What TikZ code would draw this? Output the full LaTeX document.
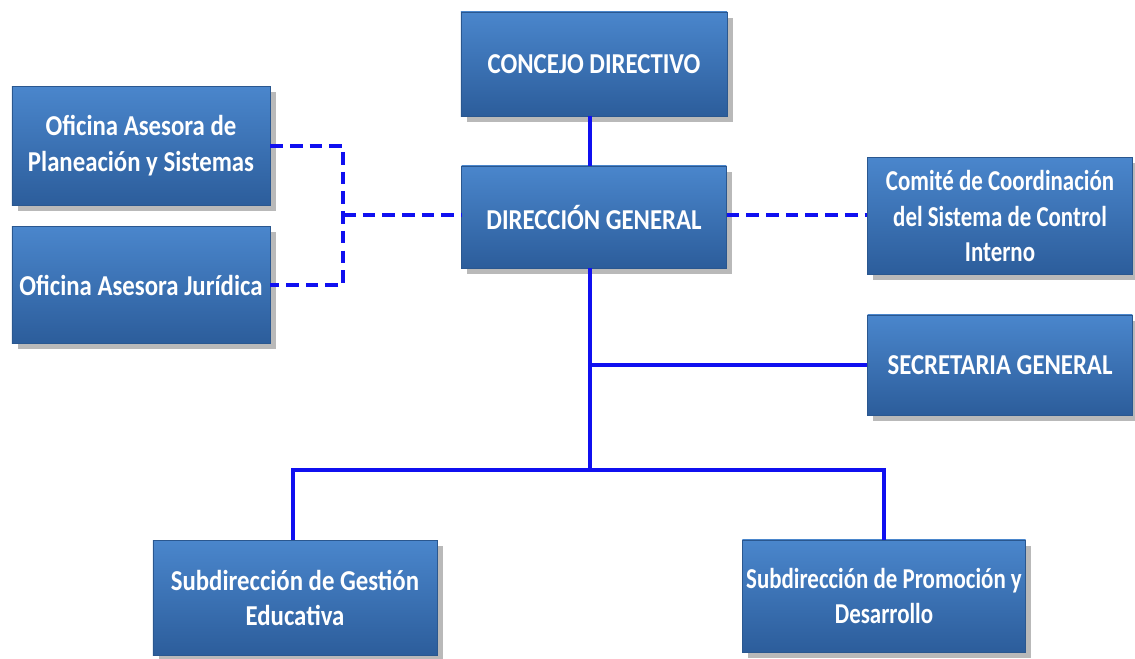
\documentclass[tikz,border=0pt]{standalone}
\usepackage{fontspec}
\setmainfont{Carlito}[FakeStretch=0.86]
\newfontfamily\narrowfont{Carlito}[FakeStretch=0.795]
\usepackage{tikz}
\usepackage{xcolor}
\usetikzlibrary{shadows}
\definecolor{boxtop}{HTML}{4A86CC}
\definecolor{boxbot}{HTML}{2C5D9B}
\definecolor{boxedge}{HTML}{2A578F}
\definecolor{linkblue}{HTML}{1010F0}

\begin{document}
\begin{tikzpicture}[x=0.025cm,y=-0.025cm,
        unit/.style={draw=boxedge,line width=0.4pt,top color=boxtop,bottom color=boxbot,
            text=white,font=\fontsize{20.5}{25.5}\selectfont\bfseries,align=center,inner sep=2pt,
            drop shadow={shadow xshift=4pt,shadow yshift=-4pt,opacity=0.55}},
        narrow/.style={font=\fontsize{20.5}{25.5}\narrowfont\bfseries},
        link/.style={draw=linkblue,line width=2.2pt},
        advice/.style={draw=linkblue,line width=2.2pt,dash pattern=on 9pt off 5pt}]
    \useasboundingbox (0,0) rectangle (1135,658);
    \node[unit,minimum width=6.65cm,minimum height=2.6cm] (concejo) at (594,64) {CONCEJO DIRECTIVO};
    \node[unit,minimum width=6.62cm,minimum height=2.55cm] (direccion) at (594,217) {DIRECCIÓN GENERAL};
    \node[unit,minimum width=6.45cm,minimum height=2.98cm] (planeacion) at (141,146) {Oficina Asesora de\\Planeación y Sistemas};
    \node[unit,minimum width=6.45cm,minimum height=2.92cm] (juridica) at (141,285) {Oficina Asesora Jurídica};
    \node[unit,narrow,minimum width=6.62cm,minimum height=2.92cm] (comite) at (1000,216) {Comité de Coordinación\\del Sistema de Control\\Interno};
    \node[unit,minimum width=6.62cm,minimum height=2.5cm] (secretaria) at (1000,365) {SECRETARIA GENERAL};
    \node[unit,minimum width=7.1cm,minimum height=2.88cm] (gestion) at (295,598) {Subdirección de Gestión\\Educativa};
    \node[unit,narrow,minimum width=7.08cm,minimum height=2.8cm] (promocion) at (884,596) {Subdirección de Promoción y\\Desarrollo};

    \coordinate (split) at (590,470);
    \coordinate (advjoin) at (343,215);
    \draw[link] (concejo.south -| split) -- (direccion.north -| split);
    \draw[link] (direccion.south -| split) -- (split);
    \draw[link] (secretaria.west -| split) -- (secretaria.west);
    \draw[link] (gestion.north -| 293,0) |- (split) -| (promocion.north);
    \draw[advice] (planeacion.east) -- (planeacion.east -| advjoin) -- (juridica.east -| advjoin) -- (juridica.east);
    \draw[advice] (advjoin) -- (direccion.west |- advjoin);
    \draw[advice] (direccion.east |- advjoin) -- (comite.west |- advjoin);
\end{tikzpicture}
\end{document}
